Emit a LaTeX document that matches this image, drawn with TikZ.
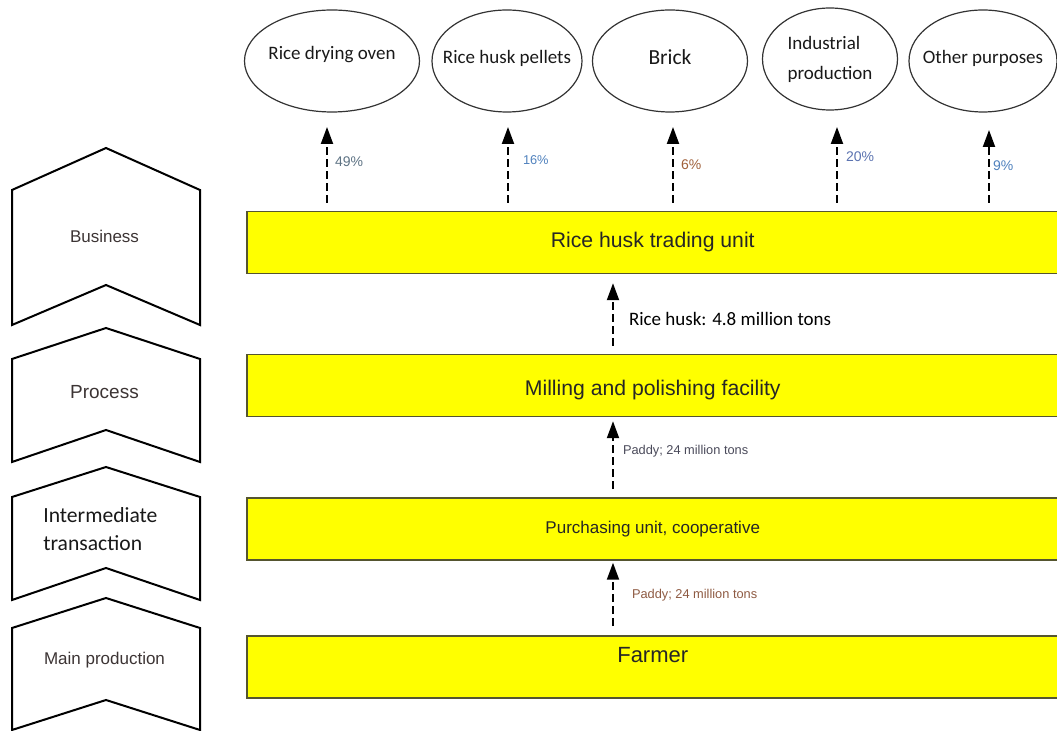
\documentclass[tikz,border=0pt]{standalone}
\usepackage{fontspec}
\setmainfont{Liberation Sans}
\newfontfamily\calibri{Carlito}
\usetikzlibrary{arrows.meta, shapes.geometric, positioning}

\definecolor{barfill}{HTML}{FFFF00}
\definecolor{barline}{HTML}{55552F}
\definecolor{pctgray}{HTML}{5E7384}
\definecolor{pctblue}{HTML}{4F81BD}
\definecolor{pctbrown}{HTML}{A0603A}
\definecolor{pctslate}{HTML}{5B73B0}
\definecolor{paddygray}{HTML}{4A4A5A}
\definecolor{paddybrown}{HTML}{8E5A42}
\definecolor{levtext}{HTML}{3C3434}

\begin{document}
\begin{tikzpicture}[
  x=0.5pt, y=-0.5pt,
  bar/.style={draw=barline, fill=barfill, line width=0.75pt, anchor=west,
              minimum width=406pt, minimum height=31pt, inner sep=0pt,
              text=black!85},
  use/.style={ellipse, draw=black!80, line width=0.6pt, inner sep=0pt,
              minimum height=51pt, text=black!90,
              font=\calibri\fontsize{9.5}{15}\selectfont},
  chev/.style={draw, line width=1pt, line join=miter},
  lev/.style={text=levtext, inner sep=0pt},
  flow/.style={line width=1pt, dash pattern=on 4pt off 2pt,
               -{Triangle[length=8.5pt, width=6pt]}},
  pct/.style={font=\fontsize{7}{8}\selectfont, inner sep=0pt}
]
\useasboundingbox (0,0) rectangle (1057,731);

% levels on the left
\draw[chev] (12,190) -- (106,148) -- (200,190) -- (200,325) -- (106,285)
  -- (12,325) -- cycle;
\draw[chev] (12,359) -- (106,328) -- (200,359) -- (200,462) -- (106,430)
  -- (12,462) -- cycle;
\draw[chev] (12,497) -- (106,467) -- (200,497) -- (200,600) -- (106,568)
  -- (12,600) -- cycle;
\draw[chev] (12,628) -- (106,598) -- (200,628) -- (200,730) -- (106,700)
  -- (12,730) -- cycle;

\node[lev, font=\fontsize{8.5}{10}\selectfont] (lbus) at (104.5,236) {Business};
\node[lev, font=\fontsize{9.5}{11}\selectfont] (lproc) at (104.5,392) {Process};
\node[lev, anchor=west, align=left, text=black!90,
  font=\calibri\fontsize{10.8}{14}\selectfont] (linter) at (43,529)
  {Intermediate\\transaction};
\node[lev, font=\fontsize{8.5}{10}\selectfont] (lmain) at (104.5,660)
  {Main production};

% chain of units
\node[bar, font=\fontsize{10.6}{12}\selectfont] (trade) at (246,242.5)
  {Rice husk trading unit};
\node[bar, font=\fontsize{10.6}{12}\selectfont] (mill) at (246,385.5)
  {\raisebox{-5pt}[0pt][0pt]{Milling and polishing facility}};
\node[bar, font=\fontsize{8.5}{10}\selectfont] (purch) at (246,529)
  {Purchasing unit, cooperative};
\node[bar, font=\fontsize{11}{13}\selectfont] (farmer) at (246,667)
  {\raisebox{12pt}{Farmer}};

% uses of the husk
\node[use, minimum width=87.5pt] (oven) at (332,61)
  {\makebox[0pt]{\raisebox{8pt}{Rice drying oven}}};
\node[use, minimum width=75pt] (pellet) at (507,61)
  {\makebox[0pt]{\raisebox{4pt}{Rice husk pellets}}};
\node[use, minimum width=77.5pt, font=\calibri\fontsize{10.75}{13}\selectfont]
  (brick) at (670,61) {\makebox[0pt]{\raisebox{4pt}{Brick}}};
\node[use, minimum width=67.5pt, align=left] (indus) at (830,59)
  {Industrial\\production};
\node[use, minimum width=74pt] (other) at (983,61)
  {\makebox[0pt]{\raisebox{4pt}{Other purposes}}};

\coordinate (t1) at (327,127);
\coordinate (t2) at (508,127);
\coordinate (t3) at (673,127);
\coordinate (t4) at (837,127);
\coordinate (t5) at (989,130);
\coordinate (mid) at (613,0);

\draw[flow, shorten <=4pt] (trade.north -| t1) -- (t1)
  node[pct, pos=0.59, right=3.5pt, text=pctgray] {49\%};
\draw[flow, shorten <=4pt] (trade.north -| t2) -- (t2)
  node[pct, pos=0.61, right=7pt, text=pctblue,
  font=\fontsize{6.4}{8}\selectfont] {16\%};
\draw[flow, shorten <=4pt] (trade.north -| t3) -- (t3)
  node[pct, pos=0.55, right=3.5pt, text=pctbrown] {6\%};
\draw[flow, shorten <=4pt] (trade.north -| t4) -- (t4)
  node[pct, pos=0.65, right=4pt, text=pctslate] {20\%};
\draw[flow, shorten <=4pt] (trade.north -| t5) -- (t5)
  node[pct, pos=0.56, right=1.5pt, text=pctblue] {9\%};

\draw[flow, shorten <=4pt, shorten >=4.5pt] (mill.north -| mid)
  -- (trade.south -| mid)
  node[pos=0.44, right=7.5pt, inner sep=0pt,
  font=\calibri\fontsize{9.5}{11}\selectfont] {Rice husk: 4.8 million tons};
\draw[flow, shorten <=4pt, shorten >=2pt] (purch.north -| mid)
  -- (mill.south -| mid)
  node[pos=0.57, right=4.5pt, inner sep=0pt, text=paddygray,
  font=\fontsize{6.4}{8}\selectfont] {Paddy; 24 million tons};
\draw[flow, shorten <=4.5pt, shorten >=1pt] (farmer.north -| mid)
  -- (purch.south -| mid)
  node[pos=0.54, right=9pt, inner sep=0pt, text=paddybrown,
  font=\fontsize{6.4}{8}\selectfont] {Paddy; 24 million tons};
\end{tikzpicture}
\end{document}
